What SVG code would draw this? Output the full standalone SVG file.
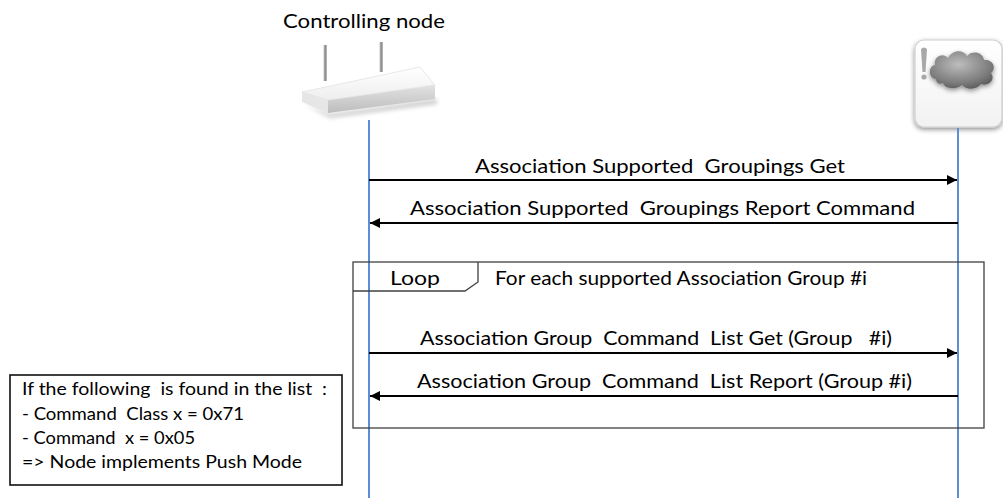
<svg xmlns="http://www.w3.org/2000/svg" width="1003" height="498" viewBox="0 0 1003 498">
<defs>
<style>
.t{font-family:Lato,"Open Sans","Liberation Sans",sans-serif;font-size:20px;fill:#000}
.n{font-family:Lato,"Open Sans","Liberation Sans",sans-serif;font-size:17px;fill:#000}
.life{stroke:#5b8ed4;stroke-width:2;fill:none}
.msg{stroke:#000;stroke-width:2.2;fill:none}
.frame{stroke:#404040;stroke-width:1.3;fill:none}
</style>
<marker id="ah" viewBox="0 0 10 10" refX="10" refY="5" markerWidth="13" markerHeight="10" markerUnits="userSpaceOnUse" orient="auto-start-reverse">
<path d="M0,0 L10,5 L0,10 Z" fill="#000"/>
</marker>
<linearGradient id="ant" x1="0" y1="0" x2="1" y2="0">
<stop offset="0" stop-color="#c8c8c8"/><stop offset="0.5" stop-color="#8a8a8a"/><stop offset="1" stop-color="#c0c0c0"/>
</linearGradient>
<linearGradient id="front" x1="0" y1="0" x2="0" y2="1">
<stop offset="0" stop-color="#e2e2e2"/><stop offset="1" stop-color="#bdbdbd"/>
</linearGradient>
<linearGradient id="top" x1="0" y1="0" x2="0" y2="1">
<stop offset="0" stop-color="#ffffff"/><stop offset="1" stop-color="#eeeeee"/>
</linearGradient>
<radialGradient id="cloud" cx="0.45" cy="0.35" r="0.7">
<stop offset="0" stop-color="#bdbdbd"/><stop offset="0.7" stop-color="#7d7d7d"/><stop offset="1" stop-color="#5a5a5a"/>
</radialGradient>
<linearGradient id="card" x1="0" y1="0" x2="0" y2="1">
<stop offset="0" stop-color="#ffffff"/><stop offset="1" stop-color="#f2f2f2"/>
</linearGradient>
<filter id="sh" x="-20%" y="-20%" width="140%" height="140%">
<feGaussianBlur in="SourceAlpha" stdDeviation="2.5"/>
<feOffset dx="0" dy="2"/>
<feComponentTransfer><feFuncA type="linear" slope="0.45"/></feComponentTransfer>
<feMerge><feMergeNode/><feMergeNode in="SourceGraphic"/></feMerge>
</filter>
<filter id="blur" x="-20%" y="-50%" width="140%" height="200%">
<feGaussianBlur stdDeviation="2"/>
</filter>
</defs>
<rect width="1003" height="498" fill="#fff"/>

<g id="controlling-node">
<text class="t" x="364" y="28" text-anchor="middle" textLength="162" lengthAdjust="spacingAndGlyphs">Controlling node</text>
<rect x="323.5" y="45" width="3.5" height="36" fill="url(#ant)"/>
<rect x="379.5" y="42" width="3.5" height="30" fill="url(#ant)"/>
<polygon points="304,104 330,114 437,99 437,104 330,118" fill="#9a9a9a" opacity="0.5" filter="url(#blur)"/>
<polygon points="302,92 328,100 328,113 302,102" fill="#e6e6e6"/>
<polygon points="328,100 435,85 435,99 328,113" fill="url(#front)"/>
<polygon points="302,92 420,67 435,85 328,100" fill="url(#top)" stroke="#e2e2e2" stroke-width="0.8" stroke-linejoin="round"/>
</g>

<g id="remote-node">
<rect x="915" y="40" width="87" height="87" rx="9" fill="url(#card)" stroke="#cfcfcf" stroke-width="1.2" filter="url(#sh)"/>
<path d="M921,49 Q924,46 927,49 L925.5,72 L922.5,72 Z" fill="#a8a8a8"/>
<circle cx="924" cy="77" r="2.6" fill="#a8a8a8"/>
<path d="M936,79 C928,78 928,66 935,65 C933,57 943,52 948,58 C952,50 963,49 967,56 C972,50 983,52 984,60 C993,59 997,68 991,73 C996,79 989,87 981,84 C977,90 966,90 962,85 C956,90 945,89 943,83 C940,85 936,83 936,79 Z" fill="url(#cloud)" filter="url(#sh)"/>
</g>

<g id="lifelines">
<line class="life" x1="369" y1="120" x2="369" y2="498"/>
<line class="life" x1="958" y1="128" x2="958" y2="498"/>
</g>

<g id="loop-frame">
<rect class="frame" x="353" y="262" width="631" height="166"/>
<polyline class="frame" points="353,291 465,291 478,282 478,262"/>
<text class="t" x="390" y="285" textLength="50" lengthAdjust="spacingAndGlyphs">Loop</text>
<text class="t" x="495" y="285" textLength="372" lengthAdjust="spacingAndGlyphs">For each supported Association Group #i</text>
</g>

<g id="connectors">
<line class="msg" x1="369" y1="180" x2="957" y2="180" marker-end="url(#ah)"/>
<line class="msg" x1="370" y1="223" x2="958" y2="223" marker-start="url(#ah)"/>
<line class="msg" x1="369" y1="353" x2="957" y2="353" marker-end="url(#ah)"/>
<line class="msg" x1="370" y1="396" x2="958" y2="396" marker-start="url(#ah)"/>
</g>

<g id="labels">
<text class="t" x="475" y="173" textLength="370" lengthAdjust="spacingAndGlyphs" xml:space="preserve">Association Supported  Groupings Get</text>
<text class="t" x="410" y="215" textLength="505" lengthAdjust="spacingAndGlyphs" xml:space="preserve">Association Supported  Groupings Report Command</text>
<text class="t" x="420" y="345" textLength="472" lengthAdjust="spacingAndGlyphs" xml:space="preserve">Association Group  Command  List Get (Group   #i)</text>
<text class="t" x="417" y="388" textLength="495" lengthAdjust="spacingAndGlyphs" xml:space="preserve">Association Group  Command  List Report (Group #i)</text>
</g>

<g id="note">
<rect x="10" y="375" width="332" height="110" fill="#fff" stroke="#000" stroke-width="1.5"/>
<text class="n" x="22" y="395" textLength="305" lengthAdjust="spacingAndGlyphs" xml:space="preserve">If the following  is found in the list  :</text>
<text class="n" x="22" y="420" textLength="222" lengthAdjust="spacingAndGlyphs" xml:space="preserve">- Command  Class x = 0x71</text>
<text class="n" x="22" y="444" textLength="173" lengthAdjust="spacingAndGlyphs" xml:space="preserve">- Command  x = 0x05</text>
<text class="n" x="22" y="468" textLength="280" lengthAdjust="spacingAndGlyphs">=&gt; Node implements Push Mode</text>
</g>
</svg>
